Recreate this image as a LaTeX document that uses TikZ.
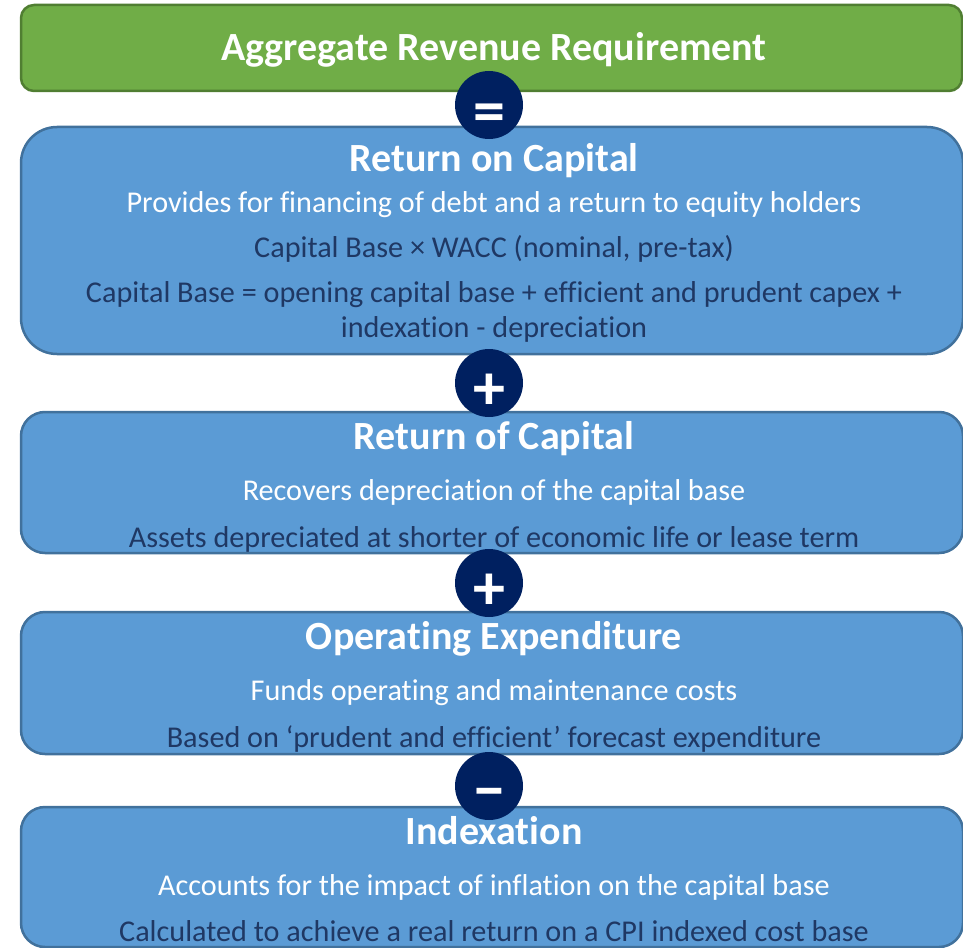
\documentclass[tikz,border=0pt]{standalone}
\usepackage{fontspec}
\setmainfont{Carlito}[Ligatures={NoCommon,NoContextual}]
\definecolor{leafgreen}{HTML}{70AD47}
\definecolor{leafedge}{HTML}{507E32}
\definecolor{skyblue}{HTML}{5B9BD5}
\definecolor{skyedge}{HTML}{41719C}
\definecolor{navy}{HTML}{002060}
\definecolor{inkblue}{HTML}{1F3864}
\begin{document}
\begin{tikzpicture}[x=1pt,y=-1pt,
  panel/.style={draw=skyedge, fill=skyblue, line width=2.5pt, minimum width=942pt, inner sep=0pt},
  headpanel/.style={draw=leafedge, fill=leafgreen, line width=2.5pt, minimum width=941pt, inner sep=0pt},
  op/.style={circle, fill=navy, minimum size=68pt, inner sep=0pt},
  % sign glyphs sit on a zero-height box, so the node centre is the baseline
  opsign/.style={inner sep=0pt, text height=0pt, text depth=0pt, text=white, font=\bfseries\fontsize{64}{64}\selectfont},
  heading/.style={anchor=base, inner sep=0pt, text=white, font=\bfseries\fontsize{40}{44}\selectfont},
  bigheading/.style={anchor=base, inner sep=0pt, text=white, font=\bfseries\fontsize{40}{44}\selectfont},
  lightline/.style={anchor=base, inner sep=0pt, text=white, font=\fontsize{30.2}{36}\selectfont},
  darkline/.style={anchor=base, inner sep=0pt, text=inkblue, font=\fontsize{30.2}{36}\selectfont}]
\useasboundingbox (0,0) rectangle (963,947);

% panels
\node[headpanel, minimum height=86pt, rounded corners=13pt] (arr) at (491.5,48) {};
\node[panel, minimum height=227pt, rounded corners=36pt] (roc) at (492,240.5) {};
\node[panel, minimum height=141pt, rounded corners=24pt] (rofc) at (492,482.5) {};
\node[panel, minimum height=142pt, rounded corners=24pt] (opex) at (492,683) {};
\node[panel, minimum height=140pt, rounded corners=24pt] (idx) at (492,877) {};

% texts
\node[bigheading] (arrT) at (494,61) {Aggregate Revenue Requirement};

\node[heading] (rocT) at (494,171) {Return on Capital};
\node[lightline] (roc1) at (494,212) {Provides for financing of debt and a return to equity holders};
\node[darkline] (roc2) at (494,257) {Capital Base × WACC (nominal, pre-tax)};
\node[darkline] (roc3) at (494,302) {Capital Base = opening capital base + efficient and prudent capex +};
\node[darkline] (roc4) at (494,337) {indexation - depreciation};

\node[heading] (rofcT) at (494,449) {Return of Capital};
\node[lightline] (rofc1) at (494,500) {Recovers depreciation of the capital base};
\node[darkline] (rofc2) at (494,547) {Assets depreciated at shorter of economic life or lease term};

\node[heading] (opexT) at (494,649) {Operating Expenditure};
\node[lightline] (opex1) at (494,700) {Funds operating and maintenance costs};
\node[darkline] (opex2) at (494,747) {Based on ‘prudent and efficient’ forecast expenditure};

\node[heading] (idxT) at (494,844) {Indexation};
\node[lightline] (idx1) at (494,895) {Accounts for the impact of inflation on the capital base};
\node[darkline] (idx2) at (494,941) {Calculated to achieve a real return on a CPI indexed cost base};

% operators between the panels
\node[op] (eq) at (489,105) {};
\node[op] (plusA) at (489,383) {};
\node[op] (plusB) at (489,583) {};
\node[op] (minus) at (489,786) {};
\node[opsign] (eqS) at ([yshift=-27pt]eq.center) {=};
\node[opsign] (plusAS) at ([yshift=-26pt]plusA.center) {+};
\node[opsign] (plusBS) at ([yshift=-26pt]plusB.center) {+};
\node[opsign] (minusS) at ([yshift=-25pt]minus.center) {−};
\end{tikzpicture}
\end{document}
